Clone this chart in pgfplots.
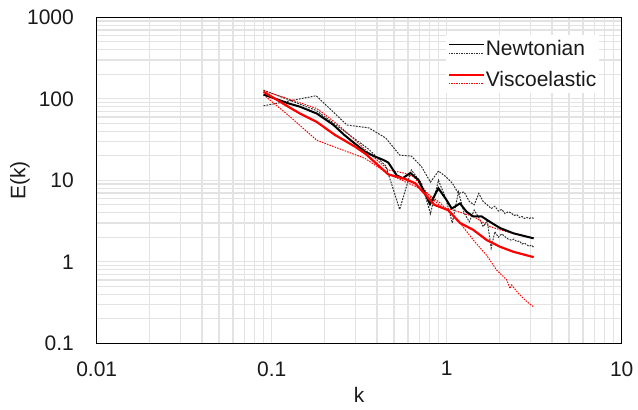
\documentclass[border=0pt]{standalone}
\usepackage{pgfplots}
\pgfplotsset{compat=1.18}
\usepackage{fontspec}
\setmainfont{Liberation Sans}
\definecolor{gridc}{HTML}{E3E3E3}
\definecolor{txt}{HTML}{1A1A1A}
\definecolor{vred}{HTML}{FF0000}
\definecolor{ndash}{HTML}{303030}

\pgfplotstableread{
k E
0.0898 113
0.1244 88
0.145 80
0.181 66
0.225 48
0.26 36
0.30 28
0.341 22.5
0.38 20
0.434 17.8
0.464 16.5
0.518 11.5
0.56 10.6
0.62 12.3
0.689 10.1
0.752 6.9
0.803 5.1
0.896 8.0
1.0 5.7
1.068 4.5
1.191 5.2
1.301 4.1
1.42 3.6
1.585 3.6
1.807 3.0
2.017 2.6
2.40 2.24
3.14 1.94
}\newtmean

\pgfplotstableread{
k E
0.0898 82
0.1796 109
0.2693 47.7
0.3590 44
0.4488 33
0.5386 20.4
0.6283 19.8
0.7181 14.7
0.8078 9.5
0.8976 13.0
0.9874 11.1
1.0771 9.2
1.1669 6.9
1.2566 7.2
1.3464 5.5
1.4362 5.0
1.5259 6.9
1.6157 5.5
1.7054 5.0
1.7952 4.5
1.8850 4.8
1.9747 4.2
2.0645 4.4
2.1542 3.9
2.2440 4.1
2.3338 4.0
2.4235 3.7
2.5133 3.8
2.6030 3.5
2.6928 3.6
2.7826 3.4
2.8723 3.5
2.9621 3.4
3.0518 3.5
3.1416 3.4
}\newthi

\pgfplotstableread{
k E
0.0898 128
0.1796 72
0.2693 38
0.3590 24
0.4488 15
0.5386 4.4
0.6283 13.4
0.7181 9.2
0.8078 3.9
0.8976 10
0.9874 6
1.0771 3.0
1.1669 7.2
1.2566 4.0
1.3464 3.1
1.4362 4.3
1.5259 3.5
1.6157 2.7
1.7054 3.2
1.7952 1.47
1.8850 2.34
1.9747 2.0
2.0645 2.2
2.1542 2.03
2.2440 1.9
2.3338 1.85
2.4235 1.9
2.5133 1.77
2.6030 1.8
2.6928 1.65
2.7826 1.7
2.8723 1.61
2.9621 1.55
3.0518 1.6
3.1416 1.51
}\newtlo

\pgfplotstableread{
k E
0.0898 122
0.1244 80
0.145 66
0.181 52
0.23 36
0.30 25.8
0.345 21
0.464 11.8
0.578 10.4
0.66 9.2
0.765 6.5
0.85 5.0
1.02 4.3
1.191 3.0
1.42 2.46
1.693 1.85
2.017 1.53
2.40 1.33
3.14 1.14
}\viscmean

\pgfplotstableread{
k E
0.0898 125
0.1244 100
0.181 76
0.24 48
0.30 31
0.341 24
0.464 13.4
0.578 12.2
0.65 11
0.82 6.0
0.936 4.7
1.09 4.3
1.42 3.6
1.767 2.7
2.203 2.34
2.62 2.13
3.14 1.94
}\vischi

\pgfplotstableread{
k E
0.0898 112
0.1244 63
0.181 31
0.24 24.7
0.341 18.6
0.464 12.0
0.578 9.6
0.72 7.8
0.82 6.3
0.916 5.3
1.191 3.0
1.42 1.85
1.693 1.2
1.931 0.79
2.203 0.60
2.30 0.47
2.35 0.52
2.57 0.41
2.80 0.34
2.95 0.31
3.14 0.28
}\vislo

\begin{document}
\begin{tikzpicture}
\begin{loglogaxis}[
  scale only axis, width=525pt, height=326pt,
  at={(0,0)}, anchor=south west,
  xmin=0.01, xmax=10, ymin=0.1, ymax=1000,
  xtick={0.01,0.1,1,10}, xticklabels={0.01,0.1,1,10},
  ytick={0.1,1,10,100,1000}, yticklabels={0.1,1,10,100,1000},
  minor xtick={0.02,0.03,0.04,0.05,0.06,0.07,0.08,0.09,0.2,0.3,0.4,0.5,0.6,0.7,0.8,0.9,2,3,4,5,6,7,8,9},
  minor ytick={0.2,0.3,0.4,0.5,0.6,0.7,0.8,0.9,2,3,4,5,6,7,8,9,20,30,40,50,60,70,80,90,200,300,400,500,600,700,800,900},
  grid=both,
  major grid style={gridc, line width=1.3pt},
  minor grid style={gridc, line width=1.3pt},
  major tick length=0pt, minor tick length=0pt,
  axis line style={line width=1.4pt, black},
  tick label style={font=\fontsize{21}{25}\selectfont, text=txt},
  xticklabel style={inner sep=0pt, anchor=north, yshift=-18pt},
  yticklabel style={inner sep=0pt, anchor=east, xshift=-22.7pt},
  xlabel={k}, ylabel={E(k)},
  label style={font=\fontsize{21}{25}\selectfont, text=txt},
  xlabel style={at={(axis description cs:0.5,-0.158)}, anchor=center, inner sep=0pt},
  ylabel style={at={(axis description cs:-0.146,0.5)}, anchor=center, inner sep=0pt, rotate=0},
  legend style={at={(0.665,0.945)}, anchor=north west, draw=none, fill=white,
    font=\fontsize{21}{25}\selectfont, text=txt, inner xsep=2pt, inner ysep=4pt,
    row sep=12pt, nodes={inner sep=1pt}},
  legend cell align=left,
]
\addplot[ndash, line width=1pt, dash pattern=on 1.8pt off 1.2pt, forget plot] table[x=k,y=E] {\newthi};
\addplot[ndash, line width=1pt, dash pattern=on 1.8pt off 1.2pt, forget plot] table[x=k,y=E] {\newtlo};
\addplot[vred, line width=1pt, dash pattern=on 1.5pt off 1.2pt, forget plot] table[x=k,y=E] {\vischi};
\addplot[vred, line width=1pt, dash pattern=on 1.5pt off 1.2pt, forget plot] table[x=k,y=E] {\vislo};
\addplot[black, line width=2pt, forget plot] table[x=k,y=E] {\newtmean};
\addplot[vred, line width=2.2pt, forget plot] table[x=k,y=E] {\viscmean};
\addlegendimage{legend image code/.code={
  \draw[black, line width=1.8pt] (0pt,4.3pt) -- (35pt,4.3pt);
  \draw[ndash, line width=0.9pt, dash pattern=on 1.5pt off 1pt] (0pt,-4.3pt) -- (35pt,-4.3pt);}}
\addlegendentry{Newtonian}
\addlegendimage{legend image code/.code={
  \draw[vred, line width=1.8pt] (0pt,4.3pt) -- (35pt,4.3pt);
  \draw[vred, line width=0.9pt, dash pattern=on 1.5pt off 1pt] (0pt,-4.3pt) -- (35pt,-4.3pt);}}
\addlegendentry{Viscoelastic}
\end{loglogaxis}
\pgfresetboundingbox
\path (-96.7pt,-66.7pt) rectangle (541.3pt,343.3pt);
\end{tikzpicture}
\end{document}
